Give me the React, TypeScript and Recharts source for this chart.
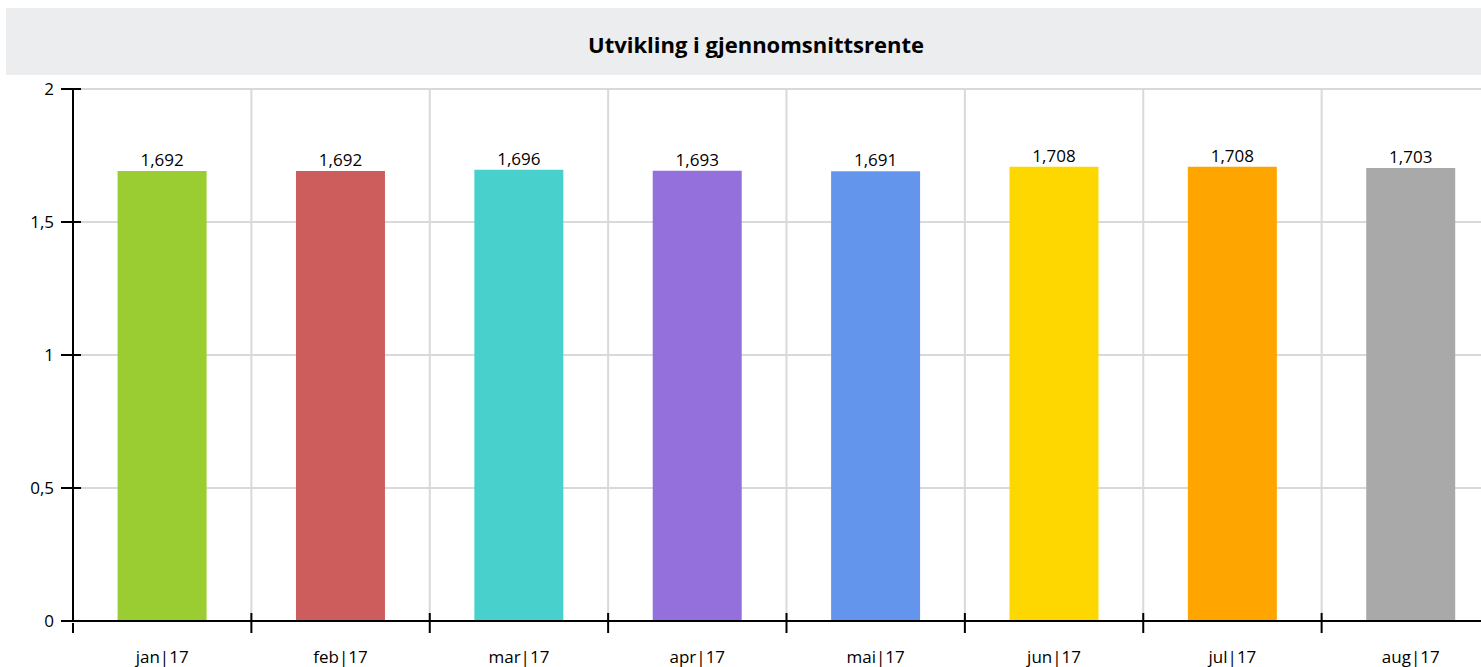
import React from 'react'
import { BarChart, Bar, XAxis, YAxis, CartesianGrid, Cell, LabelList } from 'recharts'

const months = ['jan|17', 'feb|17', 'mar|17', 'apr|17', 'mai|17', 'jun|17', 'jul|17', 'aug|17']
const rates = [1.692, 1.692, 1.696, 1.693, 1.691, 1.708, 1.708, 1.703]
const barColors = ['#9ACD32', '#CD5C5C', '#48D1CC', '#9370DB', '#6495ED', '#FFD700', '#FFA500', '#A9A9A9']
const yTicks = [0, 0.5, 1, 1.5, 2]

const data = months.map((m, i) => ({ month: m, rate: rates[i] }))

const FONT = '"Open Sans", Lato, sans-serif'
const W = 1500
const H = 592
const LEFT = 67
const RIGHT = 6
const STEP = (W - LEFT - RIGHT) / months.length

const comma = (v: number) => String(v).replace('.', ',')

const YTick = (props: any) => {
  const { x, y, payload } = props
  return (
    <g>
      <line x1={x - 10} x2={x + 10} y1={y} y2={y} stroke="#000" strokeWidth={2} />
      <text x={x - 17} y={y} dy={6} textAnchor="end" fontSize={17} fontFamily={FONT} fill="#000">
        {comma(payload.value)}
      </text>
    </g>
  )
}

const XTick = (props: any) => {
  const { x, y, payload, index } = props
  const bx = x - STEP / 2
  return (
    <g>
      <line x1={bx} x2={bx} y1={index === 0 ? y : y - 10} y2={y + 10} stroke="#000" strokeWidth={2} />
      {index === months.length - 1 && (
        <line x1={x + STEP / 2} x2={x + STEP / 2} y1={y - 10} y2={y + 10} stroke="#000" strokeWidth={2} />
      )}
      <text x={x} y={y} dy={40} textAnchor="middle" fontSize={17} fontFamily={FONT} fill="#000">
        {payload.value}
      </text>
    </g>
  )
}

export default function App() {
  return (
    <div
      style={{
        width: 1481,
        height: 667,
        boxSizing: 'border-box',
        padding: '8px 0 0 6px',
        overflow: 'hidden',
        background: '#fff',
      }}
    >
      <style>{'body{margin:0}'}</style>
      <div style={{ width: W }}>
        <div
          style={{
            height: 67,
            boxSizing: 'border-box',
            paddingTop: 5,
            background: '#ECEDEF',
            display: 'flex',
            alignItems: 'center',
            justifyContent: 'center',
            fontFamily: FONT,
            fontWeight: 'bold',
            fontSize: 22,
            color: '#000',
          }}
        >
          Utvikling i gjennomsnittsrente
        </div>
        <BarChart
          width={W}
          height={H}
          data={data}
          margin={{ top: 14, right: RIGHT, bottom: 0, left: 0 }}
          barCategoryGap="25%"
        >
          <CartesianGrid
            stroke="#D9D9D9"
            strokeWidth={2}
            verticalCoordinatesGenerator={({ offset }: any) =>
              months.map((_, i) => offset.left + ((i + 1) * offset.width) / months.length)
            }
          />
          <XAxis
            dataKey="month"
            height={46}
            tickSize={0}
            tickLine={false}
            axisLine={{ stroke: '#000', strokeWidth: 2 }}
            tick={<XTick />}
            interval={0}
          />
          <YAxis
            width={LEFT}
            domain={[0, 2]}
            ticks={yTicks}
            tickSize={0}
            tickLine={false}
            axisLine={{ stroke: '#000', strokeWidth: 2 }}
            tick={<YTick />}
          />
          <Bar dataKey="rate" isAnimationActive={false}>
            {data.map((d, i) => (
              <Cell key={d.month} fill={barColors[i]} />
            ))}
            <LabelList
              dataKey="rate"
              position="top"
              formatter={(v: any) => comma(v)}
              style={{ fontSize: 17, fontFamily: FONT, fill: '#000' }}
            />
          </Bar>
        </BarChart>
      </div>
    </div>
  )
}
